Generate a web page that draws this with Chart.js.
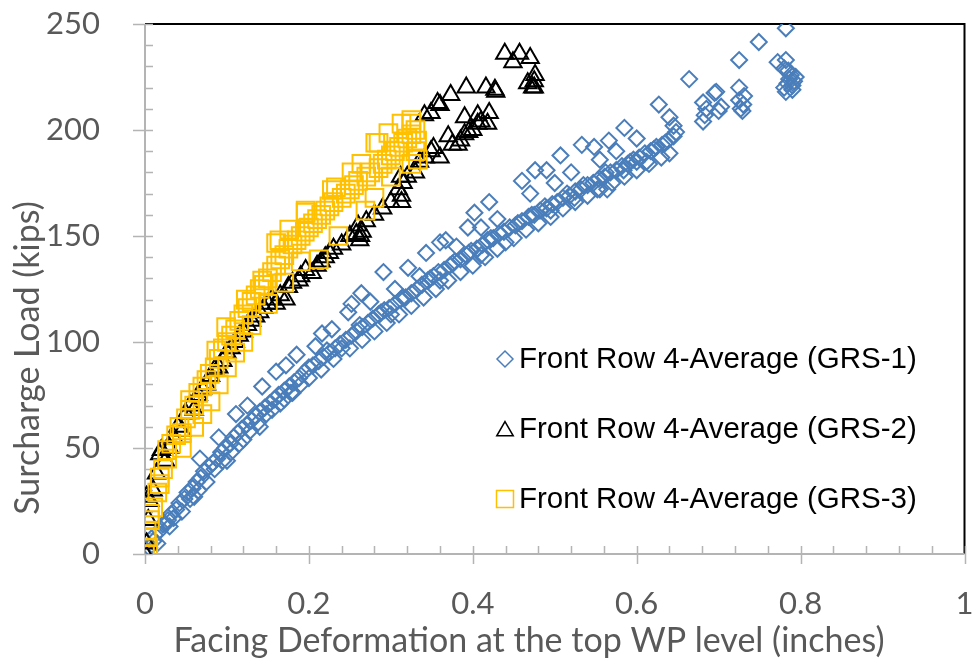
<!DOCTYPE html>
<html>
<head>
<meta charset="utf-8">
<script src="https://cdn.jsdelivr.net/npm/chart.js@4.4.1/dist/chart.umd.min.js"></script>
<style>
  body { margin: 0; background: #fff; }
</style>
</head>
<body>
<canvas id="myChart" width="979" height="664"></canvas>
<script>
// Front Row 4-Average (GRS-1)
const grs1X = [
  0, 0.005, 0.01, 0.012, 0.018, 0.022, 0.028, 0.032, 0.038, 0.042, 0.048, 0.052, 0.058, 0.063, 0.068, 0.072, 0.078, 0.083, 0.088, 0.093,
  0.098, 0.104, 0.108, 0.113, 0.118, 0.124, 0.13, 0.135, 0.14, 0.146, 0.152, 0.158, 0.163, 0.17, 0.176, 0.182, 0.188, 0.195, 0.2,
  0.067, 0.09, 0.111, 0.125, 0.143, 0.16, 0.172, 0.185, 0.208, 0.216,
  0.03, 0.06, 0.1, 0.14, 0.18, 0.2, 0.015, 0.045, 0.075, 0.115, 0.155, 0.17,
  0.025, 0.035, 0.055, 0.065, 0.085, 0.095, 0.105, 0.12, 0.128, 0.138, 0.148, 0.165, 0.178, 0.19,
  0.205, 0.212, 0.218, 0.225, 0.232, 0.238, 0.245, 0.252, 0.258, 0.265, 0.272, 0.278, 0.285, 0.292, 0.298, 0.305, 0.312, 0.318, 0.325,
  0.332, 0.338, 0.345, 0.352, 0.358, 0.365, 0.372, 0.378, 0.385, 0.392, 0.398, 0.405, 0.412, 0.418, 0.425, 0.432, 0.438, 0.445,
  0.24, 0.3, 0.36, 0.41, 0.44,
  0.215, 0.23, 0.25, 0.265, 0.28, 0.295, 0.31, 0.325, 0.34, 0.355, 0.37, 0.385, 0.4, 0.415, 0.43, 0.45, 0.465, 0.48,
  0.495, 0.51, 0.525, 0.54, 0.555, 0.57, 0.585, 0.6, 0.615, 0.63,
  0.222, 0.262, 0.288, 0.315, 0.348, 0.375, 0.395, 0.422, 0.455, 0.472, 0.488, 0.515, 0.535, 0.562, 0.592, 0.621, 0.635,
  0.228, 0.248, 0.252, 0.264, 0.275, 0.291, 0.305, 0.321, 0.335, 0.343, 0.36, 0.367, 0.38, 0.394, 0.402, 0.41, 0.42, 0.43,
  0.452, 0.46, 0.468, 0.475, 0.482, 0.49, 0.497, 0.503, 0.51, 0.518, 0.525, 0.532, 0.54, 0.547, 0.554, 0.561, 0.568, 0.575,
  0.582, 0.589, 0.596, 0.603, 0.61, 0.617, 0.624, 0.631, 0.638, 0.645, 0.648,
  0.495, 0.524, 0.552, 0.564, 0.584, 0.6, 0.612, 0.64,
  0.46, 0.47, 0.476, 0.49, 0.5, 0.507, 0.52, 0.533, 0.548, 0.555, 0.566, 0.575, 0.585, 0.6, 0.627, 0.64, 0.645,
  0.664, 0.681, 0.681, 0.683, 0.685, 0.695, 0.697, 0.7, 0.703, 0.725, 0.725, 0.725, 0.727, 0.729, 0.73, 0.731,
  0.749, 0.772, 0.782, 0.782, 0.78, 0.782, 0.784, 0.786, 0.788, 0.79, 0.79, 0.792, 0.794, 0.785, 0.78
];
const grs1Y = [
  0, 3, 6, 9, 11, 14, 16, 19, 21, 24, 26, 29, 31, 34, 36, 39, 41, 43, 45, 48,
  50, 52, 55, 57, 59, 61, 63, 65, 67, 69, 71, 73, 75, 77, 79, 81, 83, 86, 88,
  45, 55, 66, 70, 79, 86, 89, 94, 98, 104,
  13, 27, 44, 60, 76, 83, 5, 20, 34, 52, 68, 73,
  14, 17, 26, 30, 40, 44, 48, 54, 58, 62, 66, 71, 76, 80,
  89, 91, 93, 95, 97, 99, 101, 103, 105, 107, 109, 111, 113, 115, 116, 118, 120, 121, 123,
  125, 127, 129, 131, 133, 134, 136, 138, 139, 141, 143, 144, 146, 148, 149, 151, 152, 154,
  97, 113, 129, 141, 147,
  87, 92, 97, 101, 105, 109, 113, 117, 121, 125, 129, 133, 136, 140, 144, 149, 153, 156,
  159, 163, 166, 169, 172, 175, 178, 181, 184, 187,
  96, 108, 114, 121, 130, 137, 142, 149, 156, 160, 164, 170, 174, 180, 185, 191, 194,
  106, 114, 118, 123, 119, 133, 125, 135, 131, 142, 147, 148, 145, 154, 161, 154, 166, 158,
  155, 157, 159, 160, 162, 163, 165, 166, 168, 169, 171, 172, 174, 175, 177, 178, 180, 181,
  183, 184, 186, 187, 189, 190, 192, 193, 195, 197, 199,
  162, 168, 172, 172, 181, 185, 185, 189,
  176, 170, 181, 181, 175, 188, 180, 193, 192, 186, 195, 190, 201, 196, 212, 206, 202,
  224, 213, 204, 207, 210, 217.5, 218, 209, 211, 233, 220, 214, 210, 209, 212, 216,
  241.5, 232, 248, 233, 220, 218, 222, 224, 226, 219, 221, 223, 225, 228, 229
];

// Front Row 4-Average (GRS-2)
const grs2X = [
  0, 0.002, 0.004, 0.002, 0.006, 0.01, 0.014, 0.018, 0.02, 0.025, 0.03, 0.035, 0.04, 0.045, 0.05, 0.055, 0.06, 0.065, 0.07, 0.075,
  0.08, 0.085, 0.09, 0.095, 0.1, 0.105, 0.11, 0.115, 0.12, 0.125, 0.13, 0.135, 0.14, 0.145, 0.15, 0.155, 0.16, 0.165, 0.172, 0.175,
  0.18, 0.188, 0.19, 0.196, 0.204, 0.21, 0.215, 0.22, 0.225, 0.23, 0.24, 0.25, 0.258, 0.262, 0.263, 0.265, 0.26, 0.27, 0.28, 0.29,
  0.3, 0.309, 0.313, 0.313, 0.315, 0.312, 0.32, 0.33, 0.335, 0.342, 0.349, 0.352, 0.36, 0.37, 0.375, 0.382, 0.385, 0.39, 0.39, 0.395,
  0.4, 0.406, 0.406, 0.41, 0.418, 0.42, 0.341, 0.349, 0.357, 0.36, 0.373, 0.392, 0.416, 0.428, 0.427, 0.439, 0.449, 0.457, 0.47, 0.467,
  0.473, 0.475, 0.475, 0.476
];
const grs2Y = [
  0, 5, 16, 27, 25, 30, 38, 47, 49, 44, 50, 55, 60, 58, 66, 70, 68, 75, 78, 80,
  84, 87, 88, 91, 95, 97, 100, 103, 105, 108, 110, 112, 114, 116, 118, 120, 118, 122, 120, 126,
  128, 129, 131, 134, 132.5, 136, 138, 140, 142, 144, 146, 150, 151, 148, 150, 152, 155, 157, 160, 163,
  166, 172, 169, 166, 175, 178, 178, 180, 185, 187, 190, 191.5, 187, 197, 193, 193, 195, 206, 198, 199,
  200, 203, 207, 204, 203, 208, 207, 208, 212.7, 211.8, 216.5, 220, 220, 218, 219, 236, 232, 236, 234, 222,
  220, 220, 223, 226
];

// Front Row 4-Average (GRS-3)
const grs3X = [
  0, 0.004, 0.002, 0.002, 0.006, 0.006, 0.01, 0.015, 0.018, 0.018, 0.022, 0.027, 0.027, 0.032, 0.038, 0.042, 0.045, 0.05, 0.055, 0.055,
  0.06, 0.065, 0.07, 0.075, 0.079, 0.085, 0.087, 0.09, 0.095, 0.099, 0.1, 0.105, 0.11, 0.115, 0.12, 0.123, 0.125, 0.13, 0.135, 0.14,
  0.143, 0.145, 0.15, 0.155, 0.16, 0.16, 0.164, 0.165, 0.17, 0.176, 0.175, 0.18, 0.185, 0.19, 0.196, 0.196, 0.195, 0.2, 0.205, 0.21,
  0.212, 0.215, 0.22, 0.225, 0.228, 0.23, 0.233, 0.236, 0.24, 0.245, 0.25, 0.252, 0.255, 0.26, 0.264, 0.269, 0.27, 0.275, 0.28, 0.281,
  0.285, 0.285, 0.29, 0.295, 0.297, 0.3, 0.3, 0.305, 0.31, 0.313, 0.315, 0.32, 0.325, 0.325, 0.325, 0.325, 0.33, 0.333, 0.33, 0.332,
  0.045, 0.06, 0.07, 0.08, 0.09, 0.1, 0.11, 0.12, 0.13, 0.15, 0.17, 0.19
];
const grs3Y = [
  0, 3, 8, 11, 16, 19, 22, 29, 33, 36, 40, 45, 49, 52, 56, 60, 57, 64, 68, 72.6,
  70, 76, 79, 82, 85, 88, 96, 92, 97, 107, 100, 103, 106, 110, 113, 120, 116, 119, 122, 125,
  129, 127, 130, 133, 146.7, 136, 148, 139, 141, 153, 144, 146, 148, 150, 161, 162, 152, 154, 156, 158,
  139, 160, 162, 164, 171.7, 166, 173, 150, 168, 170, 172, 180, 174, 176, 184, 162, 178, 180, 168, 194,
  194, 182, 184, 186, 198.6, 178, 188, 190, 192, 203, 194, 196, 204.7, 203, 184, 198, 200, 186, 190, 195,
  50, 60, 66, 72, 80, 88, 95, 100, 108, 118, 128, 138
];

const xTicksMax = 1;
const yTicksMax = 250;
const seriesNames = [
  'Front Row 4-Average (GRS-1)',
  'Front Row 4-Average (GRS-2)',
  'Front Row 4-Average (GRS-3)'
];
const xTitle = 'Facing Deformation at the top WP level (inches)';
const yTitle = 'Surcharge Load (kips)';

const toPoints = (xs, ys) => xs.map((v, i) => ({ x: v, y: ys[i] }));

const blue = '#4a7ebb';
const yellow = '#ffc000';
const grey = '#595959';

const axisPlugin = {
  id: 'axisFrame',
  beforeDatasetsDraw(chart) {
    const { ctx, chartArea: a, scales } = chart;
    const x = scales.x, y = scales.y;
    ctx.save();
    // top and right border
    ctx.strokeStyle = '#000';
    ctx.lineWidth = 2;
    ctx.beginPath();
    ctx.moveTo(a.left, a.top);
    ctx.lineTo(a.right, a.top);
    ctx.lineTo(a.right, a.bottom);
    ctx.stroke();
    // axis lines
    ctx.strokeStyle = '#b4b4b4';
    ctx.lineWidth = 2;
    ctx.beginPath();
    ctx.moveTo(a.left, a.top);
    ctx.lineTo(a.left, a.bottom);
    ctx.lineTo(a.right, a.bottom);
    ctx.stroke();
    // tick marks
    ctx.lineWidth = 1.5;
    ctx.beginPath();
    for (let v = 0; v <= yTicksMax; v += 10) {
      const py = Math.round(y.getPixelForValue(v)) + 0.5;
      const major = v % 50 === 0;
      ctx.moveTo(major ? a.left - 12 : a.left, py);
      ctx.lineTo(a.left + 8, py);
    }
    for (let i = 0; i <= 25; i++) {
      const px = Math.round(x.getPixelForValue(i * 0.04)) + 0.5;
      const major = i % 5 === 0;
      ctx.moveTo(px, major ? a.bottom + 10 : a.bottom);
      ctx.lineTo(px, a.bottom - 8);
    }
    ctx.stroke();
    // axis titles
    ctx.fillStyle = grey;
    ctx.font = '34px Lato';
    ctx.textAlign = 'center';
    ctx.textBaseline = 'middle';
    ctx.fillText(xTitle, 529, 641);
    ctx.translate(28, 358);
    ctx.rotate(-Math.PI / 2);
    ctx.fillText(yTitle, 0, 0);
    ctx.restore();
  },
  afterDraw(chart) {
    const { ctx } = chart;
    ctx.save();
    const rows = [359, 429, 499];
    chart.data.datasets.forEach((ds, i) => {
      ctx.strokeStyle = ds.borderColor;
      ctx.fillStyle = 'rgba(0,0,0,0)';
      ctx.lineWidth = 1.5;
      Chart.helpers.drawPoint(ctx, {
        pointStyle: ds.pointStyle,
        radius: ds.legendRadius,
        borderWidth: 1.5,
        rotation: 0
      }, 505, rows[i] + (ds.pointStyle === 'triangle' ? 2 : 0));
    });
    ctx.fillStyle = '#000';
    ctx.font = '29.5px "Liberation Sans", Arial';
    ctx.textAlign = 'left';
    ctx.textBaseline = 'middle';
    seriesNames.forEach((n, i) => ctx.fillText(n, 519, rows[i] + 1));
    ctx.restore();
  }
};

const zeroPad = (s) => {
  s.paddingTop = 0; s.paddingBottom = 0; s.paddingLeft = 0; s.paddingRight = 0;
};

const ctx = document.getElementById('myChart');

new Chart(ctx, {
  type: 'scatter',
  data: {
    datasets: [{
      label: seriesNames[0],
      data: toPoints(grs1X, grs1Y),
      pointStyle: 'rectRot',
      pointRadius: 8,
      borderWidth: 2,
      borderColor: blue,
      backgroundColor: 'rgba(0,0,0,0)',
      legendRadius: 8,
      order: 3
    }, {
      label: seriesNames[1],
      data: toPoints(grs2X, grs2Y),
      pointStyle: 'triangle',
      pointRadius: 10,
      borderWidth: 2,
      borderColor: '#000',
      backgroundColor: 'rgba(0,0,0,0)',
      legendRadius: 9.5,
      order: 2
    }, {
      label: seriesNames[2],
      data: toPoints(grs3X, grs3Y),
      pointStyle: 'rect',
      pointRadius: 12.5,
      borderWidth: 2,
      borderColor: yellow,
      backgroundColor: 'rgba(0,0,0,0)',
      legendRadius: 12,
      order: 1
    }]
  },
  options: {
    responsive: false,
    animation: false,
    devicePixelRatio: 1,
    events: [],
    layout: { padding: { top: 24, right: 9, left: 0, bottom: 0 } },
    plugins: {
      legend: { display: false },
      tooltip: { enabled: false }
    },
    scales: {
      x: {
        type: 'linear',
        min: 0,
        max: xTicksMax,
        afterFit: (s) => { s.height = 110; zeroPad(s); },
        grid: { display: false },
        border: { display: false },
        ticks: {
          stepSize: 0.2,
          padding: 23,
          maxRotation: 0,
          color: grey,
          font: { family: 'Lato', size: 31 },
          callback: (v) => String(Number(v.toFixed(2)))
        }
      },
      y: {
        min: 0,
        max: yTicksMax,
        afterFit: (s) => { s.width = 145; zeroPad(s); },
        grid: { display: false },
        border: { display: false },
        ticks: {
          stepSize: 50,
          padding: 37,
          color: grey,
          font: { family: 'Lato', size: 31 }
        }
      }
    }
  },
  plugins: [axisPlugin]
});
</script>
</body>
</html>
